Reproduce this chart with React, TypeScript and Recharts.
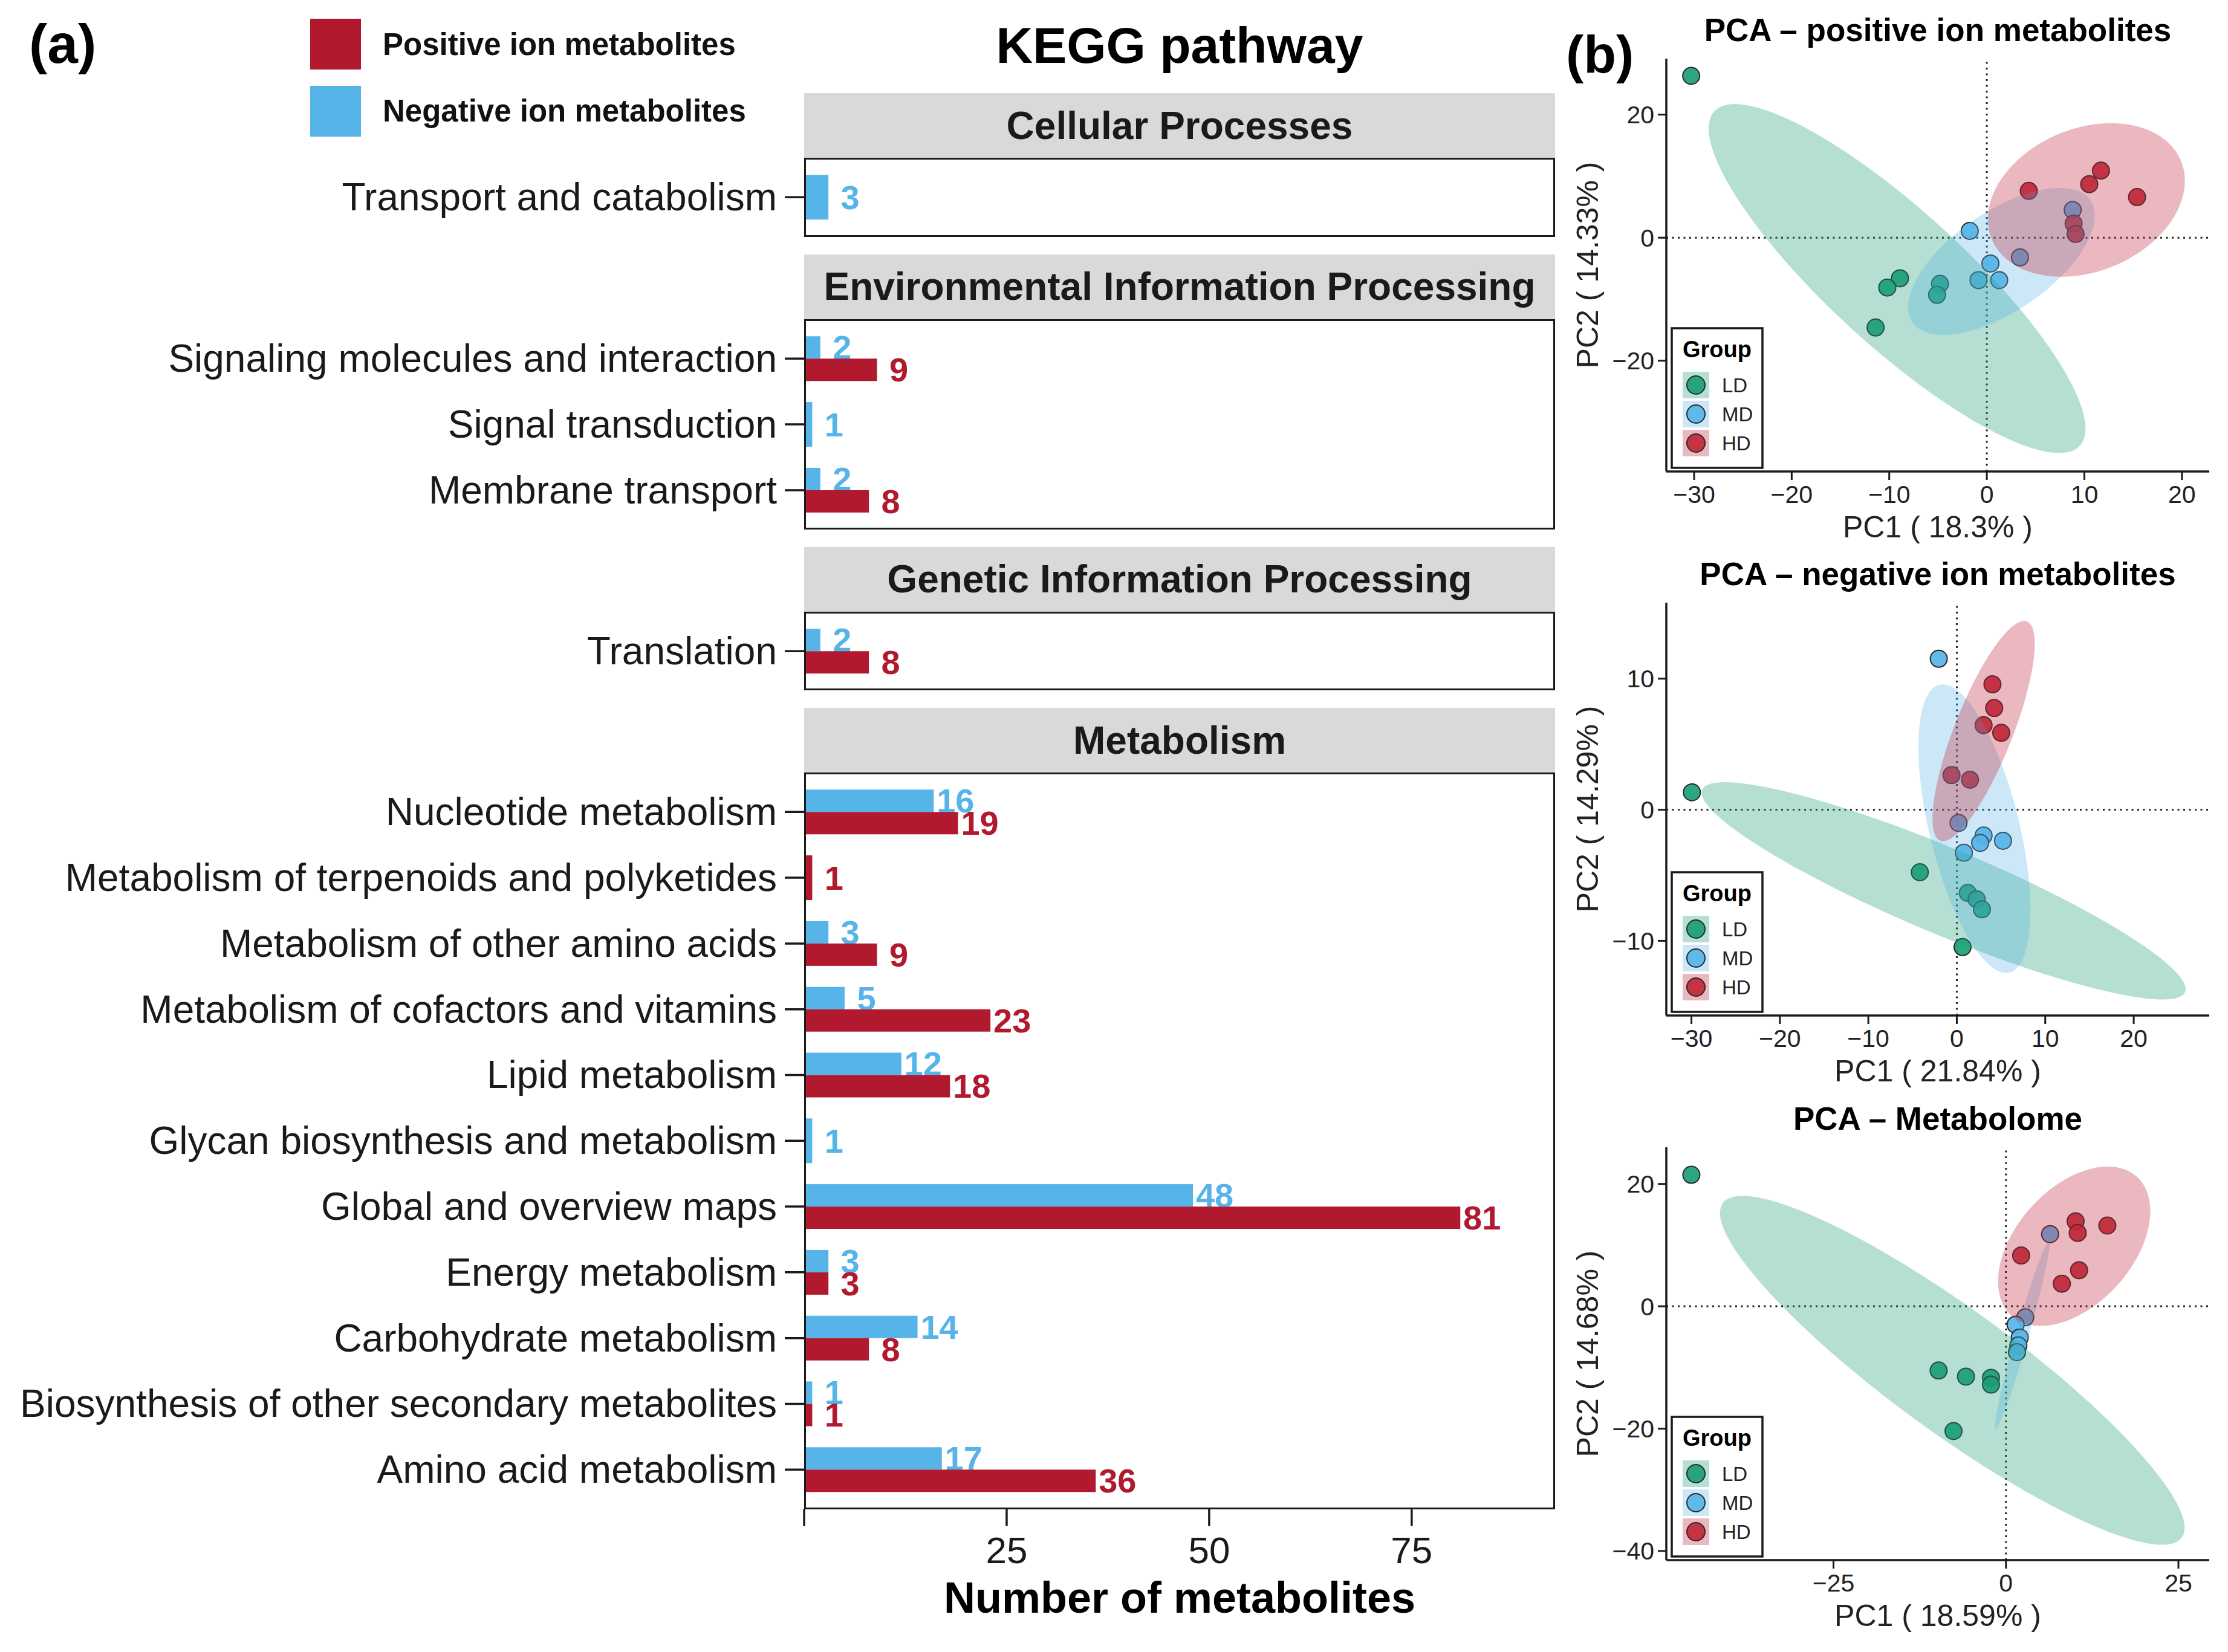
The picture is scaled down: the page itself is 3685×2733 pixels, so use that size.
import React from 'react';
import { BarChart, Bar, XAxis, YAxis, ScatterChart, Scatter, ReferenceLine, ReferenceArea } from 'recharts';

const FONT = '"Liberation Sans", Arial, Helvetica, sans-serif';
const PAGE_W = 3685;
const PAGE_H = 2733;

// ---------------- Panel (a) data ----------------
const facetNames = [
  'Cellular Processes',
  'Environmental Information Processing',
  'Genetic Information Processing',
  'Metabolism',
];
const pathwayNames = [
  'Transport and catabolism',
  'Signaling molecules and interaction',
  'Signal transduction',
  'Membrane transport',
  'Translation',
  'Nucleotide metabolism',
  'Metabolism of terpenoids and polyketides',
  'Metabolism of other amino acids',
  'Metabolism of cofactors and vitamins',
  'Lipid metabolism',
  'Glycan biosynthesis and metabolism',
  'Global and overview maps',
  'Energy metabolism',
  'Carbohydrate metabolism',
  'Biosynthesis of other secondary metabolites',
  'Amino acid metabolism',
];
const pathwayFacet = [0, 1, 1, 1, 2, 3, 3, 3, 3, 3, 3, 3, 3, 3, 3, 3];
const negativeIonCounts = [3, 2, 1, 2, 2, 16, null, 3, 5, 12, 1, 48, 3, 14, 1, 17];
const positiveIonCounts = [null, 9, null, 8, 8, 19, 1, 9, 23, 18, null, 81, 3, 8, 1, 36];
const seriesLabels = ['Positive ion metabolites', 'Negative ion metabolites'];
const countTicks = [0, 25, 50, 75];
const countDomain = [0, 92.7];

// ---------------- Panel (b) data ----------------
const groupNames = ['LD', 'MD', 'HD'];
const pcaTitles = ['PCA \u2013 positive ion metabolites', 'PCA \u2013 negative ion metabolites', 'PCA \u2013 Metabolome'];
const pc1Labels = ['PC1 ( 18.3% )', 'PC1 ( 21.84% )', 'PC1 ( 18.59% )'];
const pc2Labels = ['PC2 ( 14.33% )', 'PC2 ( 14.29% )', 'PC2 ( 14.68% )'];

// positive ion PCA scores [PC1, PC2]
const posLD = [[-30.3, 26.3], [-8.9, -6.6], [-10.2, -8.1], [-11.4, -14.6], [-4.8, -7.5], [-5.1, -9.3]];
const posMD = [[-1.75, 1.1], [0.37, -4.2], [-0.85, -6.9], [1.27, -6.9], [8.8, 4.5], [3.4, -3.2]];
const posHD = [[4.3, 7.6], [10.5, 8.7], [11.7, 10.9], [15.4, 6.6], [8.9, 2.3], [9.1, 0.6]];
// negative ion PCA scores
const negLD = [[-29.95, 1.33], [-4.18, -4.77], [1.24, -6.35], [2.24, -6.83], [2.84, -7.6], [0.65, -10.48]];
const negMD = [[-2.04, 11.52], [0.2, -1.01], [3.03, -1.97], [2.64, -2.53], [5.22, -2.37], [0.8, -3.28]];
const negHD = [[4.03, 9.57], [4.23, 7.76], [3.03, 6.45], [5.02, 5.87], [-0.6, 2.64], [1.49, 2.29]];
// metabolome PCA scores
const metLD = [[-45.6, 21.5], [-9.76, -10.5], [-5.8, -11.5], [-2.17, -11.7], [-2.17, -12.8], [-7.6, -20.4]];
const metMD = [[6.4, 11.8], [2.8, -1.8], [1.4, -3.0], [2.0, -5.1], [1.8, -6.4], [1.6, -7.5]];
const metHD = [[10.1, 13.9], [14.7, 13.2], [10.4, 12.0], [2.2, 8.3], [10.6, 5.9], [8.1, 3.7]];

// confidence ellipses: centre, two conjugate semi-axes (data units)
const posEllipseLD = { c: [-9.2, -6.64], u: [19.31, -24.39], v: [0, 14.46] };
const posEllipseMD = { c: [1.5, -3.86], u: [9.57, 7.43], v: [0, 9.36] };
const posEllipseHD = { c: [10.2, 6.13], u: [10.1, 3.12], v: [0, 12.08] };
const negEllipseLD = { c: [-1.49, -6.19], u: [27.36, -7.49], v: [0, 3.55] };
const negEllipseMD = { c: [1.99, -1.44], u: [-3.58, 11.01], v: [5.22, 0] };
const negEllipseHD = { c: [3.03, 6.0], u: [4.58, 8.4], v: [3.52, 0] };
const metEllipseLD = { c: [-7.78, -10.47], u: [33.67, -25.74], v: [0, 12.28] };
const metEllipseMD = { c: [2.36, -4.73], u: [3.83, 15.27], v: [0.96, 0] };
const metEllipseHD = { c: [9.89, 9.82], u: [11.03, 5.74], v: [0, 11.69] };

const posXTicks = [-30, -20, -10, 0, 10, 20];
const posYTicks = [-20, 0, 20];
const negXTicks = [-30, -20, -10, 0, 10, 20];
const negYTicks = [-10, 0, 10];
const metXTicks = [-25, 0, 25];
const metYTicks = [-40, -20, 0, 20];
const posXDomain = [-32.85, 22.8];
const posYDomain = [-38.0, 29.1];
const negXDomain = [-32.84, 28.54];
const negYDomain = [-15.7, 15.8];
const metXDomain = [-49.23, 29.47];
const metYDomain = [-41.5, 26.0];

// ---------------- styles ----------------
const POS_COLOR = '#b11a2e';
const NEG_COLOR = '#56b4e9';
const GROUP_COLORS = ['#1b9e77', '#56b4e9', '#c0283b'];
const GROUP_ALPHA = [0.33, 0.3, 0.33];
const INK = '#1a1a1a';

// layout of panel (a)
const BAR_LEFT = 1330;
const BAR_RIGHT = 2572;
const STRIP_TOP0 = 154;
const STRIP_H = 107;
const FACET_GAP = 29;
const ROW_UNIT = 108.8;
const X_AXIS_H = 190;

const fmtSigned = (v) => (v < 0 ? '\u2212' + Math.abs(v) : String(v));

const makeBarShape = (key, otherKey, color) => (props) => {
  const { x, y, width, height, payload } = props;
  if (!payload || payload[key] == null || !isFinite(width) || !isFinite(height)) return <g />;
  const solo = payload[otherKey] == null;
  let ry = y;
  let rh = height;
  if (solo) {
    rh = height * 2;
    if (key === 'pos') ry = y - height;
  }
  return (
    <g>
      <rect x={x} y={ry} width={Math.max(width, 0)} height={rh} fill={color} />
      <text
        x={x + width + 36}
        y={ry + rh / 2}
        textAnchor="middle"
        dominantBaseline="central"
        fontSize={56}
        fontWeight="bold"
        fontFamily={FONT}
        fill={color}
      >
        {payload[key]}
      </text>
    </g>
  );
};

const negShape = makeBarShape('neg', 'pos', NEG_COLOR);
const posShape = makeBarShape('pos', 'neg', POS_COLOR);

const PathTick = (props) => {
  const { x, y, payload } = props;
  return (
    <text x={x} y={y} textAnchor="end" dominantBaseline="central" fontSize={64} fontFamily={FONT} fill={INK}>
      {payload.value}
    </text>
  );
};

function Facet({ rows, name, stripTop, showAxis }) {
  const panelTop = stripTop + STRIP_H;
  const panelH = (rows.length + 0.2) * ROW_UNIT;
  const chartH = panelH + (showAxis ? X_AXIS_H : 0);
  const pad = 0.1 * ROW_UNIT;
  return (
    <>
      <div
        style={{
          position: 'absolute',
          left: BAR_LEFT,
          top: stripTop,
          width: BAR_RIGHT - BAR_LEFT,
          height: STRIP_H,
          background: '#d9d9d9',
          display: 'flex',
          alignItems: 'center',
          justifyContent: 'center',
          fontFamily: FONT,
          fontWeight: 'bold',
          fontSize: 64,
          color: INK,
          whiteSpace: 'nowrap',
        }}
      >
        {name}
      </div>
      <div style={{ position: 'absolute', left: 0, top: panelTop, width: BAR_RIGHT, height: chartH }}>
        <BarChart
          layout="vertical"
          width={BAR_RIGHT}
          height={chartH}
          data={rows}
          margin={{ top: 0, right: 0, bottom: 0, left: 0 }}
          barCategoryGap="16%"
          barGap={0}
        >
          <XAxis
            type="number"
            domain={countDomain}
            ticks={countTicks}
            allowDataOverflow
            hide={!showAxis}
            height={X_AXIS_H}
            axisLine={false}
            tickSize={28}
            tickMargin={17}
            tickLine={{ stroke: INK, strokeWidth: 3.5 }}
            tick={{ fontSize: 62, fill: INK, fontFamily: FONT }}
            tickFormatter={(v) => (v === 0 ? '' : String(v))}
            label={{
              value: 'Number of metabolites',
              position: 'insideBottom',
              offset: 19,
              style: { fontSize: 72, fontWeight: 'bold', fill: '#000', fontFamily: FONT },
            }}
          />
          <YAxis
            type="category"
            dataKey="name"
            width={BAR_LEFT}
            padding={{ top: pad, bottom: pad }}
            interval={0}
            tickSize={32}
            tickMargin={13}
            axisLine={false}
            tickLine={{ stroke: INK, strokeWidth: 3.5 }}
            tick={<PathTick />}
          />
          <Bar dataKey="neg" fill={NEG_COLOR} shape={negShape} isAnimationActive={false} />
          <Bar dataKey="pos" fill={POS_COLOR} shape={posShape} isAnimationActive={false} />
        </BarChart>
      </div>
      <div
        style={{
          position: 'absolute',
          left: BAR_LEFT,
          top: panelTop,
          width: BAR_RIGHT - BAR_LEFT,
          height: panelH,
          border: `3.5px solid ${INK}`,
          boxSizing: 'border-box',
          pointerEvents: 'none',
        }}
      />
    </>
  );
}

const makeEllipseShape = (e, color, alpha) => (props) => {
  const { x, y, width, height } = props;
  const px = x;
  const py = y + height;
  const pts = [];
  for (let i = 0; i < 160; i++) {
    const t = (i / 160) * 2 * Math.PI;
    const dx = e.u[0] * Math.cos(t) + e.v[0] * Math.sin(t);
    const dy = e.u[1] * Math.cos(t) + e.v[1] * Math.sin(t);
    pts.push(`${(px + width * dx).toFixed(2)},${(py - height * dy).toFixed(2)}`);
  }
  return <polygon points={pts.join(' ')} fill={color} fillOpacity={alpha} stroke="none" />;
};

const makePointShape = (color) => (props) => {
  const { cx, cy } = props;
  if (!isFinite(cx) || !isFinite(cy)) return <g />;
  return <circle cx={cx} cy={cy} r={14} fill={color} fillOpacity={0.92} stroke="#2a2a2a" strokeWidth={2} />;
};

const toPoints = (arr) => arr.map(([a, b]) => ({ pc1: a, pc2: b }));

function PcaPanel({ top, title, xLabel, yLabel, groups, ellipses, xDomain, yDomain, xTicks, yTicks }) {
  const frame = { stroke: INK, strokeWidth: 3.5 };
  const tickStyle = { fontSize: 41, fill: '#222', fontFamily: FONT };
  return (
    <div style={{ position: 'absolute', left: 2550, top, width: 1135, height: 900 }}>
      <ScatterChart width={1135} height={900} margin={{ top: 97, right: 31, bottom: 8, left: 0 }}>
        <XAxis
          type="number"
          dataKey="pc1"
          domain={xDomain}
          ticks={xTicks}
          allowDataOverflow
          height={112}
          tickSize={14}
          tickMargin={9}
          axisLine={frame}
          tickLine={{ stroke: INK, strokeWidth: 3 }}
          tick={tickStyle}
          tickFormatter={fmtSigned}
          label={{ value: xLabel, position: 'insideBottom', offset: 3, style: { fontSize: 50, fill: '#222', fontFamily: FONT } }}
        />
        <YAxis
          type="number"
          dataKey="pc2"
          domain={yDomain}
          ticks={yTicks}
          allowDataOverflow
          width={206}
          tickSize={14}
          tickMargin={6}
          axisLine={frame}
          tickLine={{ stroke: INK, strokeWidth: 3 }}
          tick={tickStyle}
          tickFormatter={fmtSigned}
          label={{
            value: yLabel,
            angle: -90,
            position: 'insideLeft',
            offset: 75,
            style: { textAnchor: 'middle', fontSize: 50, fill: '#222', fontFamily: FONT },
          }}
        />
        <XAxis xAxisId="top" orientation="top" type="number" domain={xDomain} allowDataOverflow height={0} tick={false} tickLine={false} axisLine={frame} />
        <YAxis yAxisId="right" orientation="right" type="number" domain={yDomain} allowDataOverflow width={0} tick={false} tickLine={false} axisLine={frame} />
        <ReferenceLine x={0} stroke="#222" strokeWidth={3} strokeDasharray="3 6.5" />
        <ReferenceLine y={0} stroke="#222" strokeWidth={3} strokeDasharray="3 6.5" />
        {groups.map((g, i) => (
          <Scatter key={groupNames[i]} name={groupNames[i]} data={toPoints(g)} fill={GROUP_COLORS[i]} shape={makePointShape(GROUP_COLORS[i])} isAnimationActive={false} />
        ))}
        {ellipses.map((e, i) => (
          <ReferenceArea
            key={'ell' + i}
            x1={e.c[0]}
            x2={e.c[0] + 1}
            y1={e.c[1]}
            y2={e.c[1] + 1}
            ifOverflow="visible"
            zIndex={700}
            shape={makeEllipseShape(e, GROUP_COLORS[i], GROUP_ALPHA[i])}
          />
        ))}
      </ScatterChart>
      <svg width={1135} height={900} style={{ position: 'absolute', left: 0, top: 0, pointerEvents: 'none' }}>
        <text x={655} y={68} textAnchor="middle" fontSize={53} fontWeight="bold" fontFamily={FONT} fill="#000">
          {title}
        </text>
        <rect x={215} y={543} width={150} height={231} fill="#fff" stroke={INK} strokeWidth={3.5} />
        <text x={233} y={591} fontSize={38} fontWeight="bold" fontFamily={FONT} fill="#000">
          Group
        </text>
        {groupNames.map((g, i) => {
          const cy = 637 + i * 48;
          return (
            <g key={g}>
              <rect x={233} y={cy - 22} width={44} height={44} fill={GROUP_COLORS[i]} fillOpacity={GROUP_ALPHA[i]} />
              <circle cx={255} cy={cy} r={15} fill={GROUP_COLORS[i]} fillOpacity={0.92} stroke="#2a2a2a" strokeWidth={2} />
              <text x={298} y={cy + 12} fontSize={33} fontFamily={FONT} fill="#222">
                {g}
              </text>
            </g>
          );
        })}
      </svg>
    </div>
  );
}

export default function App() {
  // build facets
  const facets = facetNames.map((name, f) => {
    const rows = [];
    pathwayNames.forEach((p, i) => {
      if (pathwayFacet[i] === f) rows.push({ name: p, neg: negativeIonCounts[i], pos: positiveIonCounts[i] });
    });
    return { name, rows };
  });
  let cursor = STRIP_TOP0;
  const facetTops = facets.map((f) => {
    const t = cursor;
    cursor += STRIP_H + (f.rows.length + 0.2) * ROW_UNIT + FACET_GAP;
    return t;
  });

  const pcaSets = [
    { groups: [posLD, posMD, posHD], ellipses: [posEllipseLD, posEllipseMD, posEllipseHD], xDomain: posXDomain, yDomain: posYDomain, xTicks: posXTicks, yTicks: posYTicks },
    { groups: [negLD, negMD, negHD], ellipses: [negEllipseLD, negEllipseMD, negEllipseHD], xDomain: negXDomain, yDomain: negYDomain, xTicks: negXTicks, yTicks: negYTicks },
    { groups: [metLD, metMD, metHD], ellipses: [metEllipseLD, metEllipseMD, metEllipseHD], xDomain: metXDomain, yDomain: metYDomain, xTicks: metXTicks, yTicks: metYTicks },
  ];
  const pcaTops = [0, 900, 1801];

  return (
    <div style={{ position: 'absolute', left: 0, top: 0, width: PAGE_W, height: PAGE_H, background: '#fff', fontFamily: FONT, overflow: 'hidden' }}>
      <svg width={PAGE_W} height={PAGE_H} style={{ position: 'absolute', left: 0, top: 0 }}>
        <text x={48} y={104} fontSize={91} fontWeight="bold" fontFamily={FONT} fill="#000">(a)</text>
        <text x={2590} y={120} fontSize={88} fontWeight="bold" fontFamily={FONT} fill="#000">(b)</text>
        <rect x={513} y={31} width={84} height={84} fill={POS_COLOR} />
        <rect x={513} y={142} width={84} height={84} fill={NEG_COLOR} />
        <text x={633} y={91} fontSize={51} fontWeight="bold" fontFamily={FONT} fill="#111">{seriesLabels[0]}</text>
        <text x={633} y={201} fontSize={51} fontWeight="bold" fontFamily={FONT} fill="#111">{seriesLabels[1]}</text>
        <text x={(BAR_LEFT + BAR_RIGHT) / 2} y={104} textAnchor="middle" fontSize={84} fontWeight="bold" fontFamily={FONT} fill="#000">
          KEGG pathway
        </text>
      </svg>
      {facets.map((f, i) => (
        <Facet key={f.name} rows={f.rows} name={f.name} stripTop={facetTops[i]} showAxis={i === facets.length - 1} />
      ))}
      {pcaSets.map((s, i) => (
        <PcaPanel
          key={pcaTitles[i]}
          top={pcaTops[i]}
          title={pcaTitles[i]}
          xLabel={pc1Labels[i]}
          yLabel={pc2Labels[i]}
          {...s}
        />
      ))}
    </div>
  );
}
